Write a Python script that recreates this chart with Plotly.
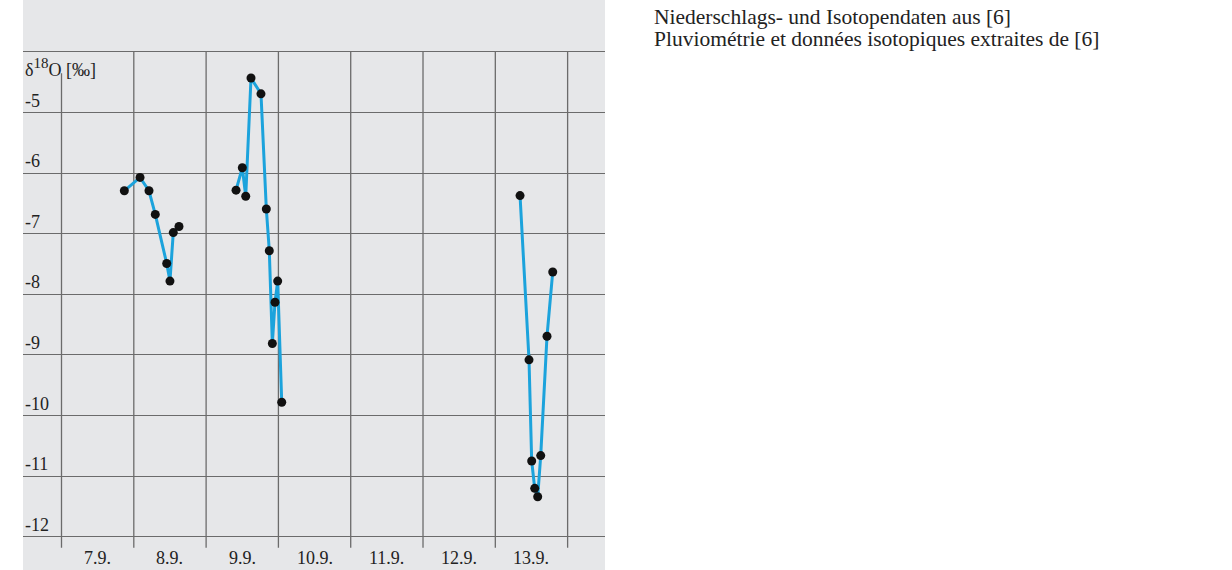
import plotly.graph_objects as go

# δ18O measurements, time given as fractional day of September
days_a = [7.869, 8.086, 8.21, 8.297, 8.455, 8.50, 8.546, 8.625]
d18o_a = [-6.29, -6.07, -6.29, -6.68, -7.49, -7.78, -6.98, -6.88]

days_b = [9.414, 9.501, 9.548, 9.621, 9.759, 9.833, 9.874, 9.916, 9.953, 9.990, 10.046]
d18o_b = [-6.28, -5.91, -6.38, -4.43, -4.69, -6.59, -7.28, -8.81, -8.13, -7.78, -9.78]

days_c = [13.342, 13.466, 13.503, 13.545, 13.586, 13.628, 13.715, 13.794]
d18o_c = [-6.37, -9.08, -10.75, -11.20, -11.34, -10.66, -8.69, -7.63]

# Axis divisions
day_edges = [7, 8, 9, 10, 11, 12, 13, 14]
day_labels = ["7.9.", "8.9.", "9.9.", "10.9.", "11.9.", "12.9.", "13.9."]
y_grid = [-4, -5, -6, -7, -8, -9, -10, -11, -12]
y_labels = ["-5", "-6", "-7", "-8", "-9", "-10", "-11", "-12"]

source_lines = ["Niederschlags- und Isotopendaten aus [6]",
                "Pluviométrie et données isotopiques extraites de [6]"]

FONT = "Liberation Serif, Times New Roman, serif"
BG = "#e6e7e9"
GRID = "#6b6b6b"
LINE = "#1ca3dc"

fig = go.Figure()

for xs, ys in [(days_a, d18o_a), (days_b, d18o_b), (days_c, d18o_c)]:
    fig.add_trace(go.Scatter(
        x=xs, y=ys, mode="lines+markers",
        line=dict(color=LINE, width=3),
        marker=dict(color="#111111", size=9),
        showlegend=False, hoverinfo="skip",
    ))

# vertical day dividers, running a little past the lowest gridline
y_top, y_bottom = max(y_grid), min(y_grid) - 0.18
for i, d in enumerate(day_edges):
    fig.add_shape(type="line", x0=d, x1=d,
                  y0=(y_top - 0.35) if i == 0 else y_top, y1=y_bottom,
                  line=dict(color=GRID, width=1.3), layer="below")

# day labels centred in each day column
for d, lab in zip(day_edges[:-1], day_labels):
    fig.add_annotation(x=d + 0.5, y=0.021, xref="x", yref="paper",
                       text=lab, showarrow=False, xanchor="center", yanchor="middle",
                       font=dict(family=FONT, size=18, color="#222222"))

# value labels sitting on top of their gridlines at the left edge
for v, lab in zip(y_grid[1:], y_labels):
    fig.add_annotation(x=0, y=v, xref="paper", yref="y", text=lab, showarrow=False,
                       xanchor="left", yanchor="bottom",
                       font=dict(family=FONT, size=18, color="#222222"))

fig.add_annotation(x=0, y=y_grid[0], xref="paper", yref="y",
                   text="δ<sup><span style='font-size:15px'>18</span></sup>O [‰]",
                   showarrow=False, xanchor="left", yanchor="top", yshift=-1,
                   font=dict(family=FONT, size=18, color="#222222"))

# source note to the right of the chart, one annotation per line
for k, line in enumerate(source_lines):
    fig.add_annotation(x=1.0808, y=1 - (17.5 + 22 * k) / 570, xref="paper", yref="paper",
                       text=line, showarrow=False, xanchor="left", yanchor="middle",
                       align="left",
                       font=dict(family=FONT, size=21.5, color="#222222"))

fig.update_xaxes(range=[6.4675, 14.517], showgrid=False, zeroline=False,
                 showticklabels=False, ticks="", showline=False)
fig.update_yaxes(range=[-12.548, -3.142], tickvals=y_grid, showgrid=True,
                 gridcolor=GRID, gridwidth=1.3, zeroline=False,
                 showticklabels=False, ticks="", showline=False)

fig.update_layout(
    width=1232, height=570,
    margin=dict(l=23, r=627, t=0, b=0),
    plot_bgcolor=BG, paper_bgcolor="white",
)

fig.write_html("out.html")
